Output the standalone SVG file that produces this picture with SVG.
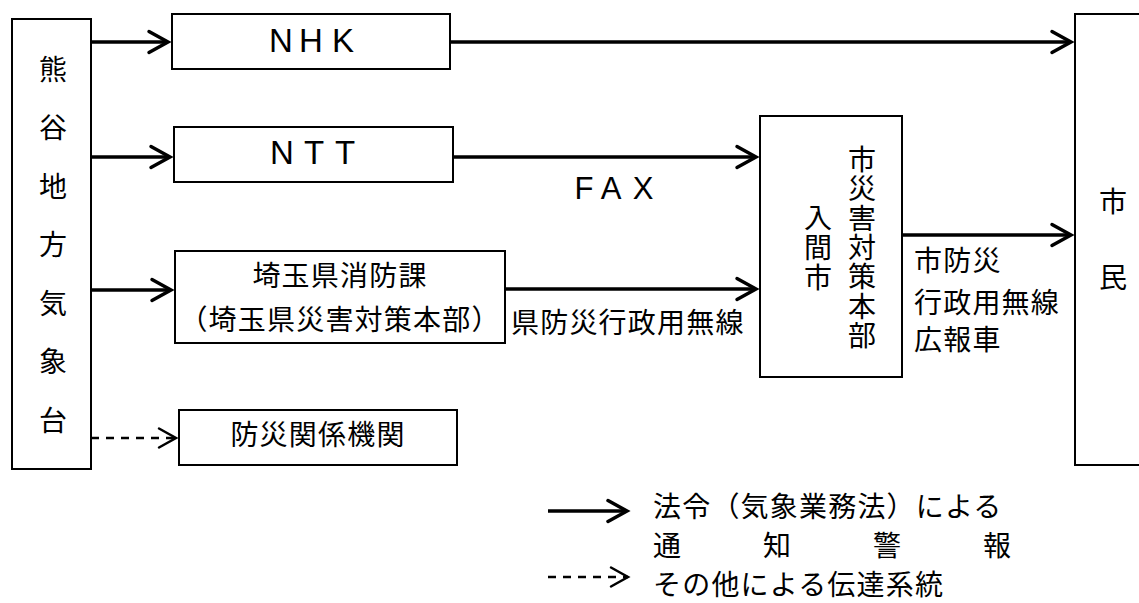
<svg xmlns="http://www.w3.org/2000/svg" width="1139" height="603" viewBox="0 0 1139 603">
<style>
.box{fill:#fff;stroke:#000;stroke-width:2}
.jp{font-family:"Noto Sans CJK JP","Noto Sans CJK SC",sans-serif;font-size:28px;fill:#000;letter-spacing:1.2px}
.lat{font-family:"Liberation Sans",Arial,sans-serif;font-size:33px;fill:#000;text-anchor:middle}
.sol{stroke:#000;stroke-width:3.5;fill:none;marker-end:url(#ah)}
.dsh{stroke:#000;stroke-width:2.5;fill:none;stroke-dasharray:8 7;marker-end:url(#ahd)}
.mid{text-anchor:middle}
.vert{writing-mode:vertical-rl;text-anchor:start}
</style>
<defs>
<marker id="ah" markerUnits="userSpaceOnUse" viewBox="-24 -14 28 28" refX="0" refY="0" markerWidth="28" markerHeight="28" orient="auto" overflow="visible">
<path d="M-19,-10.5 L0,0 L-19,10.5" fill="none" stroke="#000" stroke-width="3.5" stroke-linecap="round"/>
</marker>
<marker id="ahd" markerUnits="userSpaceOnUse" viewBox="-24 -14 28 28" refX="0" refY="0" markerWidth="28" markerHeight="28" orient="auto" overflow="visible">
<path d="M-17,-9.5 L0,0 L-17,9.5" fill="none" stroke="#000" stroke-width="2.5" stroke-linecap="round"/>
</marker>
</defs>
<rect width="1139" height="603" fill="#fff"/>

<g id="connectors">
<line class="sol" x1="91" y1="42" x2="168" y2="42"/>
<line class="sol" x1="91" y1="157" x2="170" y2="157"/>
<line class="sol" x1="91" y1="290" x2="171" y2="290"/>
<line class="dsh" x1="91" y1="438" x2="176" y2="438"/>
<line class="sol" x1="450" y1="42" x2="1071" y2="42"/>
<line class="sol" x1="453" y1="157" x2="756" y2="157"/>
<line class="sol" x1="505" y1="289" x2="756" y2="289"/>
<line class="sol" x1="902" y1="235" x2="1071" y2="235"/>
</g>

<g id="node-kumagaya">
<rect class="box" x="12" y="19" width="79" height="450"/>
<text class="jp mid" style="letter-spacing:0"><tspan x="53" y="80">熊</tspan><tspan x="53" y="138">谷</tspan><tspan x="53" y="197">地</tspan><tspan x="53" y="255">方</tspan><tspan x="53" y="314">気</tspan><tspan x="53" y="372">象</tspan><tspan x="53" y="431">台</tspan></text>
</g>

<g id="node-nhk">
<rect class="box" x="172" y="14" width="278" height="55"/>
<text class="lat" y="52"><tspan x="281">N</tspan><tspan x="311">H</tspan><tspan x="343">K</tspan></text>
</g>

<g id="node-ntt">
<rect class="box" x="174" y="127" width="279" height="55"/>
<text class="lat" y="164"><tspan x="282">N</tspan><tspan x="314">T</tspan><tspan x="345">T</tspan></text>
</g>

<g id="node-saitama">
<rect class="box" x="175" y="251" width="330" height="92"/>
<text class="jp mid" x="340" y="286">埼玉県消防課</text>
<text class="jp mid" x="340" y="330">（埼玉県災害対策本部）</text>
</g>

<g id="node-bousai">
<rect class="box" x="179" y="410" width="278" height="55"/>
<text class="jp mid" x="318" y="445">防災関係機関</text>
</g>

<g id="node-iruma">
<rect class="box" x="760" y="116" width="142" height="261"/>
<text class="jp vert" x="862" y="145.5" style="letter-spacing:1.3px">市災害対策本部</text>
<text class="jp vert" x="818" y="203.5" style="letter-spacing:2px">入間市</text>
</g>

<g id="node-shimin">
<rect class="box" x="1075" y="14" width="100" height="451"/>
<text class="jp mid" style="letter-spacing:0"><tspan x="1113" y="212">市</tspan><tspan x="1113" y="288">民</tspan></text>
</g>

<g id="labels">
<text class="lat" y="199" style="font-size:31px"><tspan x="584">F</tspan><tspan x="611">A</tspan><tspan x="643">X</tspan></text>
<text class="jp" x="511" y="333">県防災行政用無線</text>
<text class="jp" x="914" y="271">市防災</text>
<text class="jp" x="914" y="313">行政用無線</text>
<text class="jp" x="914" y="350">広報車</text>
</g>

<g id="legend">
<line class="sol" x1="548" y1="511" x2="627" y2="511"/>
<line class="dsh" x1="548" y1="577" x2="628" y2="577"/>
<text class="jp" x="653" y="517">法令（気象業務法）による</text>
<text class="jp" y="556" style="letter-spacing:0"><tspan x="653">通</tspan><tspan x="763">知</tspan><tspan x="873">警</tspan><tspan x="983">報</tspan></text>
<text class="jp" x="653" y="595">その他による伝達系統</text>
</g>
</svg>
